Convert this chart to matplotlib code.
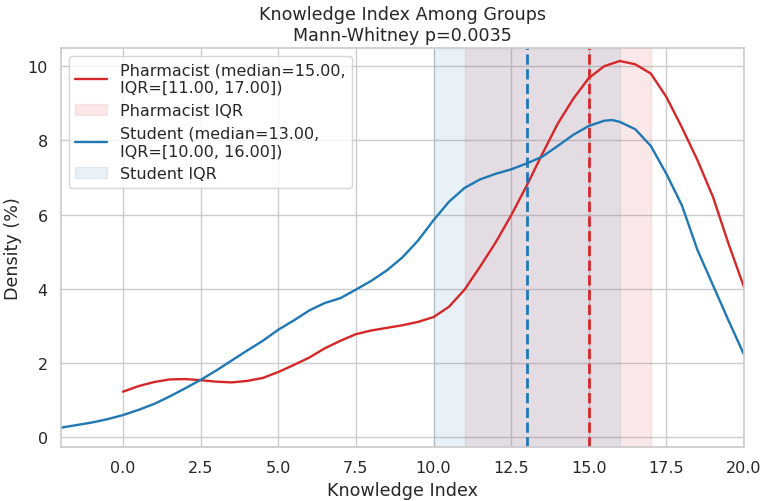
import numpy as np
import matplotlib
matplotlib.use("Agg")
import matplotlib.pyplot as plt
import seaborn as sns

# curve values (density in %)
pharm_x = [0.0, 0.5, 1.0, 1.5, 2.0, 2.5, 3.0, 3.5, 4.0, 4.5, 5.0, 5.5, 6.0, 6.5,
           7.0, 7.5, 8.0, 8.5, 9.0, 9.5, 10.0, 10.5, 11.0, 11.5, 12.0, 12.5,
           13.0, 13.5, 14.0, 14.5, 15.0, 15.5, 16.0, 16.5, 17.0, 17.5, 18.0,
           18.5, 19.0, 19.5, 20.0]
pharm_y = [1.23, 1.38, 1.49, 1.56, 1.57, 1.54, 1.50, 1.48, 1.52, 1.60, 1.76,
           1.95, 2.15, 2.40, 2.60, 2.78, 2.88, 2.95, 3.02, 3.11, 3.24, 3.52,
           3.98, 4.60, 5.25, 5.98, 6.78, 7.63, 8.45, 9.12, 9.68, 10.00, 10.14,
           10.05, 9.80, 9.17, 8.35, 7.47, 6.48, 5.22, 4.05]

stud_x = [-2.0, -1.5, -1.0, -0.5, 0.0, 0.5, 1.0, 1.5, 2.0, 2.5, 3.0, 3.5, 4.0,
          4.5, 5.0, 5.5, 6.0, 6.5, 7.0, 7.5, 8.0, 8.5, 9.0, 9.5, 10.0, 10.5,
          11.0, 11.5, 12.0, 12.5, 13.0, 13.5, 14.0, 14.5, 15.0, 15.5, 15.75,
          16.0, 16.5, 17.0, 17.5, 18.0, 18.5, 19.0, 19.5, 20.0]
stud_y = [0.26, 0.33, 0.40, 0.49, 0.60, 0.74, 0.90, 1.10, 1.32, 1.55, 1.80,
          2.07, 2.34, 2.60, 2.90, 3.15, 3.42, 3.62, 3.75, 3.98, 4.22, 4.50,
          4.85, 5.30, 5.85, 6.35, 6.72, 6.95, 7.10, 7.22, 7.38, 7.56, 7.85,
          8.15, 8.39, 8.53, 8.55, 8.50, 8.30, 7.85, 7.10, 6.25, 5.05, 4.10,
          3.15, 2.23]

pharm_median, pharm_iqr = 15.0, (11.0, 17.0)
stud_median, stud_iqr = 13.0, (10.0, 16.0)
p_value = 0.0035

sns.set_theme(style="whitegrid", font_scale=1.05)

fig = plt.figure(figsize=(7.67, 5.02), dpi=100)
ax = fig.add_axes([0.0795, 0.1076, 0.8905, 0.7948])

red = "#d62728"
blue = "#1f77b4"

ax.plot(pharm_x, pharm_y, color=red, linewidth=1.7,
        label=f"Pharmacist (median={pharm_median:.2f},\nIQR=[{pharm_iqr[0]:.2f}, {pharm_iqr[1]:.2f}])")
ax.axvspan(pharm_iqr[0], pharm_iqr[1], color=red, alpha=0.1, label="Pharmacist IQR")
ax.axvline(pharm_median, color=red, linestyle="--", linewidth=2)

ax.plot(stud_x, stud_y, color=blue, linewidth=1.7,
        label=f"Student (median={stud_median:.2f},\nIQR=[{stud_iqr[0]:.2f}, {stud_iqr[1]:.2f}])")
ax.axvspan(stud_iqr[0], stud_iqr[1], color=blue, alpha=0.1, label="Student IQR")
ax.axvline(stud_median, color=blue, linestyle="--", linewidth=2)

ax.set_xlim(-2, 20)
ax.set_ylim(-0.26, 10.49)
ax.set_xticks(np.arange(0, 20.1, 2.5))
ax.set_xticklabels([f"{v:.1f}" for v in np.arange(0, 20.1, 2.5)])
ax.set_yticks(range(0, 11, 2))

ax.set_title(f"Knowledge Index Among Groups\nMann-Whitney p={p_value:.4f}")
ax.set_xlabel("Knowledge Index")
ax.set_ylabel("Density (%)")
ax.legend(loc="upper left")

fig.savefig("out.png", dpi=100)
